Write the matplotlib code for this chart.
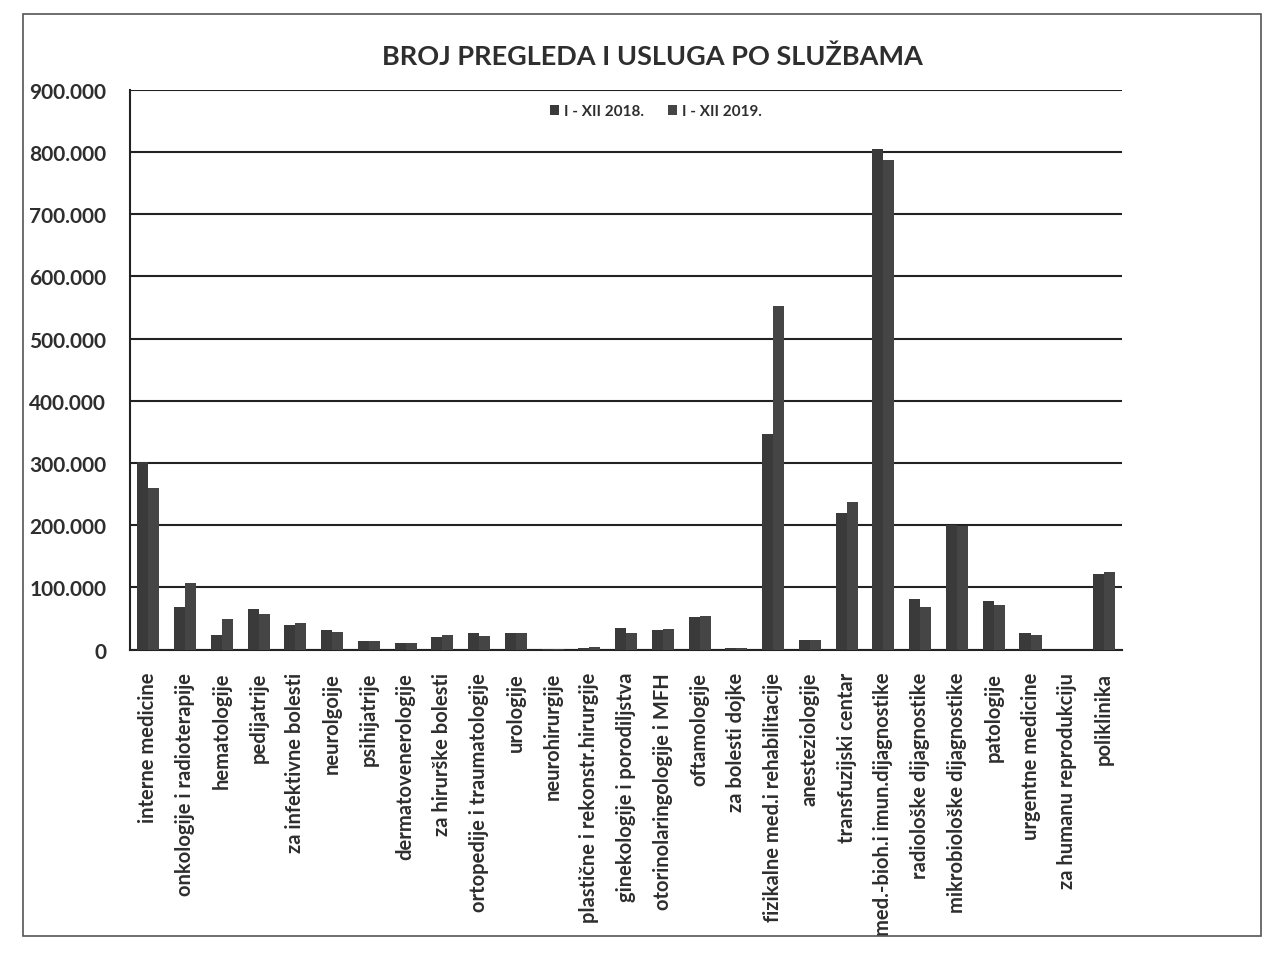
import matplotlib
matplotlib.use("Agg")
import matplotlib.pyplot as plt
import numpy as np
from matplotlib.patches import Rectangle
from matplotlib.ticker import FuncFormatter

categories = [
    "interne medicine", "onkologije i radioterapije", "hematologije", "pedijatrije",
    "za infektivne bolesti", "neurolgoije", "psihijatrije", "dermatovenerologije",
    "za hirurške bolesti", "ortopedije i traumatologije", "urologije", "neurohirurgije",
    "plastične i rekonstr.hirurgije", "ginekologije i porodiljstva",
    "otorinolaringologije i MFH", "oftamologije", "za bolesti dojke",
    "fizikalne med.i rehabilitacije", "anesteziologije", "transfuzijski centar",
    "med.-bioh.i imun.dijagnostike", "radiološke dijagnostike",
    "mikrobiološke dijagnostike", "patologije", "urgentne medicine",
    "za humanu reprodukciju", "poliklinika",
]
values_2018 = [301000, 69000, 23000, 65000, 40000, 32000, 14000, 10000, 21000, 26000,
               27000, 1000, 3000, 34000, 31000, 52000, 3000, 347000, 15000, 219000,
               805000, 82000, 200000, 78000, 27000, 0, 121000]
values_2019 = [259000, 107000, 49000, 58000, 42000, 29000, 14000, 10000, 24000, 22000,
               27000, 1200, 4000, 27000, 33000, 54000, 3000, 552000, 15000, 237000,
               787000, 69000, 198000, 72000, 24000, 0, 124000]
series_labels = ["I - XII 2018.", "I - XII 2019."]
yticks = list(range(0, 900001, 100000))

plt.rcParams['font.family'] = ['Lato', 'DejaVu Sans']
TXT = '#2e2e2e'

fig = plt.figure(figsize=(12.74, 9.54), dpi=100)
ax = fig.add_axes([0.102, 0.318, 0.779, 0.587])

x = np.arange(len(categories))
w = 0.3
ax.bar(x - w/2, values_2018, width=w, color='#3a3a3a', label=series_labels[0], zorder=3)
ax.bar(x + w/2, values_2019, width=w, color='#454545', label=series_labels[1], zorder=3)

ax.set_xlim(-0.5, len(categories) - 0.5)
ax.set_ylim(0, 900000)
ax.set_yticks(yticks)
ax.yaxis.set_major_formatter(FuncFormatter(lambda v, p: f"{int(v):,}".replace(",", ".")))
ax.grid(axis='y', color='#222222', linewidth=1.5, zorder=0)
ax.set_xticks(x)
ax.set_xticklabels(categories, rotation=90, fontsize=14.5, fontweight='bold', color=TXT)
for lab in ax.get_yticklabels():
    lab.set_fontweight('bold')
    lab.set_fontsize(15)
    lab.set_color(TXT)
ax.tick_params(axis='y', length=0, pad=17)
ax.tick_params(axis='x', length=0, pad=16)
for s in ['top', 'right']:
    ax.spines[s].set_visible(False)
ax.spines['left'].set_color('#222222')
ax.spines['bottom'].set_color('#222222')
ax.spines['left'].set_linewidth(1.5)
ax.spines['bottom'].set_linewidth(1.5)

leg = ax.legend(loc='upper center', bbox_to_anchor=(0.53, 0.998), ncol=2, frameon=False,
                prop={'weight': 'bold', 'size': 11}, handlelength=0.6, handleheight=0.6,
                columnspacing=1.6, handletextpad=0.3)
for t in leg.get_texts():
    t.set_color(TXT)

fig.text(0.512, 0.94, "BROJ PREGLEDA I USLUGA PO SLUŽBAMA", ha='center', va='center',
         fontsize=19.5, fontweight='bold', color=TXT)

fig.add_artist(Rectangle((0.018, 0.018), 0.972, 0.966, transform=fig.transFigure,
                         fill=False, edgecolor='#555555', linewidth=1.2))

fig.savefig("out.png", dpi=100)
